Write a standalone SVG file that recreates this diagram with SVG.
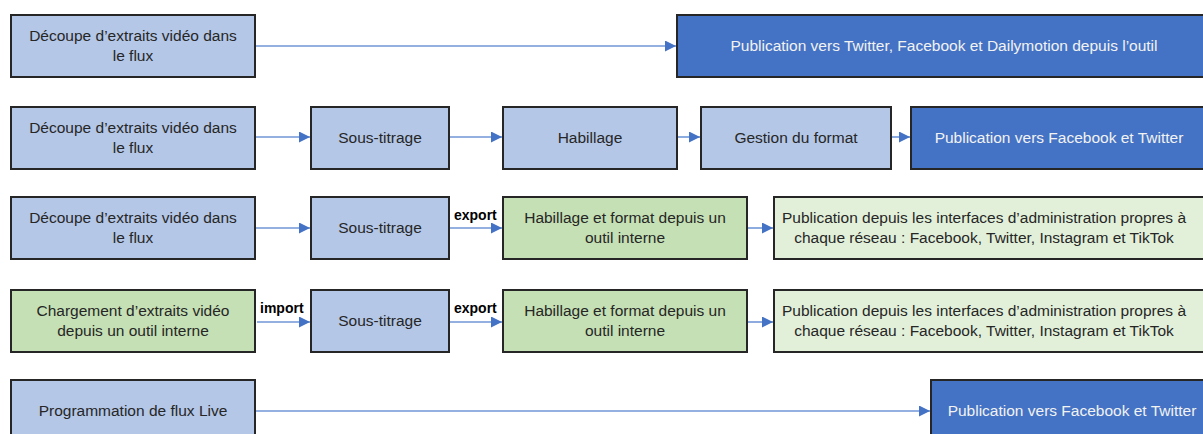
<svg xmlns="http://www.w3.org/2000/svg" width="1203" height="434" viewBox="0 0 1203 434">
<style>
rect{stroke:#262626;stroke-width:2}
.lb{fill:#B4C7E7}
.db{fill:#4472C4}
.g{fill:#C5E0B4}
.lg{fill:#E2F0D9}
text{font-family:"Liberation Sans",Arial,sans-serif;font-size:15.5px;fill:#262626;text-anchor:middle}
.w{fill:#F2F2F2}
.lbl{font-weight:bold;font-size:14px;fill:#000;text-anchor:start}
.c{stroke:#7096D6;stroke-width:1.6;fill:none;marker-end:url(#ah)}
</style>
<defs>
<marker id="ah" markerUnits="userSpaceOnUse" markerWidth="12" markerHeight="12" refX="11" refY="5.5" orient="auto">
<path d="M0,0 L11,5.5 L0,11 z" fill="#4472C4"/>
</marker>
</defs>
<g id="connectors">
<line class="c" x1="256" y1="46" x2="676" y2="46"/>
<line class="c" x1="256" y1="137" x2="310" y2="137"/>
<line class="c" x1="450" y1="137" x2="502" y2="137"/>
<line class="c" x1="678" y1="137" x2="700" y2="137"/>
<line class="c" x1="892" y1="137" x2="910" y2="137"/>
<line class="c" x1="256" y1="228" x2="310" y2="228"/>
<line class="c" x1="450" y1="228" x2="502" y2="228"/>
<line class="c" x1="748" y1="228" x2="773" y2="228"/>
<line class="c" x1="257" y1="322" x2="310" y2="322"/>
<line class="c" x1="450" y1="322" x2="502" y2="322"/>
<line class="c" x1="748" y1="322" x2="773" y2="322"/>
<line class="c" x1="256" y1="411" x2="930" y2="411"/>
<text class="lbl" x="454" y="220">export</text>
<text class="lbl" x="260" y="313">import</text>
<text class="lbl" x="454" y="313">export</text>
</g>
<g id="r1a"><rect class="lb" x="11" y="15" width="244" height="62"/><text x="133" y="41">Découpe d’extraits vidéo dans</text><text x="133" y="61">le flux</text></g>
<g id="r1b"><rect class="db" x="677" y="15" width="535" height="62"/><text class="w" x="944" y="51">Publication vers Twitter, Facebook et Dailymotion depuis l’outil</text></g>
<g id="r2a"><rect class="lb" x="11" y="107" width="244" height="62"/><text x="133" y="133">Découpe d’extraits vidéo dans</text><text x="133" y="153">le flux</text></g>
<g id="r2b"><rect class="lb" x="311" y="107" width="138" height="62"/><text x="380" y="143">Sous-titrage</text></g>
<g id="r2c"><rect class="lb" x="503" y="107" width="174" height="62"/><text x="590" y="143">Habillage</text></g>
<g id="r2d"><rect class="lb" x="701" y="107" width="190" height="62"/><text x="796" y="143">Gestion du format</text></g>
<g id="r2e"><rect class="db" x="911" y="107" width="300" height="62"/><text class="w" x="1059" y="143">Publication vers Facebook et Twitter</text></g>
<g id="r3a"><rect class="lb" x="11" y="197" width="244" height="62"/><text x="133" y="223">Découpe d’extraits vidéo dans</text><text x="133" y="243">le flux</text></g>
<g id="r3b"><rect class="lb" x="311" y="197" width="138" height="62"/><text x="380" y="233">Sous-titrage</text></g>
<g id="r3c"><rect class="g" x="503" y="197" width="244" height="62"/><text x="625" y="223">Habillage et format depuis un</text><text x="625" y="243">outil interne</text></g>
<g id="r3d"><rect class="lg" x="774" y="197" width="440" height="62"/><text x="984" y="223">Publication depuis les interfaces d’administration propres à</text><text x="984" y="243">chaque réseau : Facebook, Twitter, Instagram et TikTok</text></g>
<g id="r4a"><rect class="g" x="11" y="290" width="244" height="62"/><text x="133" y="316">Chargement d’extraits vidéo</text><text x="133" y="336">depuis un outil interne</text></g>
<g id="r4b"><rect class="lb" x="311" y="290" width="138" height="62"/><text x="380" y="326">Sous-titrage</text></g>
<g id="r4c"><rect class="g" x="503" y="290" width="244" height="62"/><text x="625" y="316">Habillage et format depuis un</text><text x="625" y="336">outil interne</text></g>
<g id="r4d"><rect class="lg" x="774" y="290" width="440" height="62"/><text x="984" y="316">Publication depuis les interfaces d’administration propres à</text><text x="984" y="336">chaque réseau : Facebook, Twitter, Instagram et TikTok</text></g>
<g id="r5a"><rect class="lb" x="11" y="380" width="244" height="62"/><text x="133" y="416">Programmation de flux Live</text></g>
<g id="r5b"><rect class="db" x="931" y="380" width="282" height="62"/><text class="w" x="1072" y="416">Publication vers Facebook et Twitter</text></g>
</svg>
